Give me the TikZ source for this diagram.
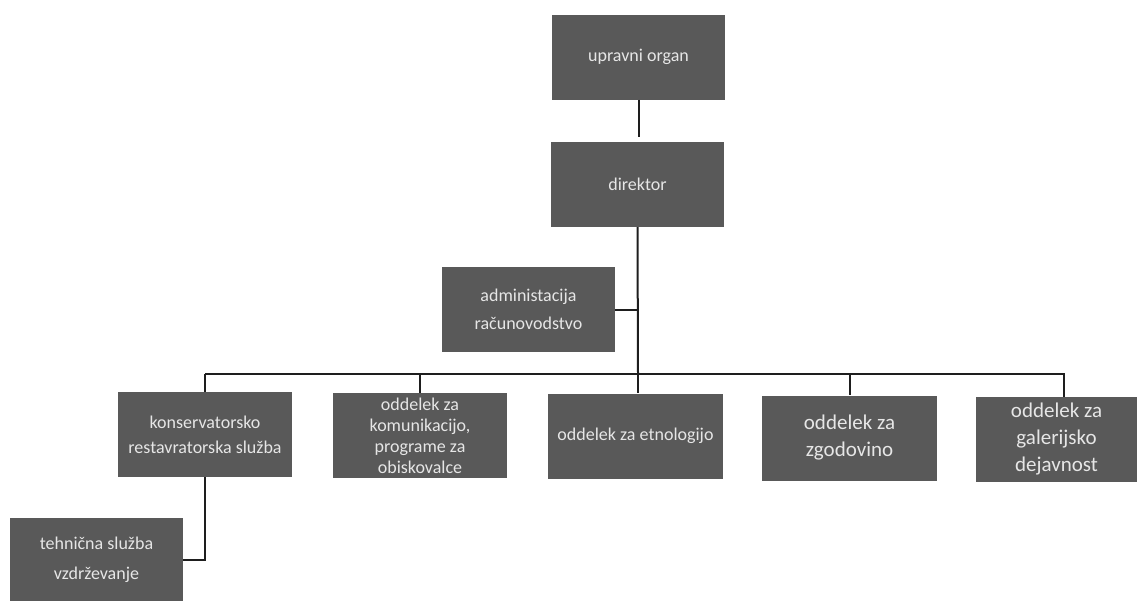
\documentclass[tikz,border=0pt]{standalone}
\usepackage{fontspec}
\setmainfont{Carlito}
\definecolor{boxfill}{HTML}{595959}
\definecolor{boxtext}{HTML}{E6E6E6}
\definecolor{linecol}{HTML}{1E1E1E}
\begin{document}
\begin{tikzpicture}[x=1pt,y=-1pt,
  orgbox/.style={draw=none,fill=boxfill,text=boxtext,align=center,inner sep=2pt,
    minimum width=#1,minimum height=85pt,font=\fontsize{18}{25}\selectfont},
  orgbox/.default=173pt,
  bigtext/.style={font=\fontsize{21}{27}\selectfont},
  conn/.style={draw=linecol,line width=2pt}]
\useasboundingbox (0,0) rectangle (1138,600);
\node[orgbox] (upr) at (638.5,57) {upravni organ};
\node[orgbox] (dir) at (637.5,184.5) {direktor};
\node[orgbox,font=\fontsize{18}{28}\selectfont] (adm) at (528.5,309.5) {administacija\\računovodstvo};
\node[orgbox=174pt] (kons) at (205,434.5) {konservatorsko\\restavratorska služba};
\node[orgbox=174pt,font=\fontsize{18}{21}\selectfont] (kom) at (420,435.5) {oddelek za\\komunikacijo,\\programe za\\obiskovalce};
\node[orgbox=175pt] (etn) at (635.5,436) {oddelek za etnologijo};
\node[orgbox=175pt,bigtext] (zgo) at (849.5,438) {oddelek za\\zgodovino};
\node[orgbox=161pt,bigtext,inner sep=0pt] (gal) at (1056.5,439) {oddelek za\\galerijsko\\dejavnost};
\node[orgbox,minimum height=84pt,font=\fontsize{18}{30}\selectfont] (teh) at (96.5,560) {tehnična služba\\vzdrževanje};
\coordinate (bus) at (638,374);
\coordinate (galtop) at (1064,397);
\draw[conn] (upr.south) -- ++(0,37);
\draw[conn] (dir.south) -- (bus);
\draw[conn] (adm.east) -- (adm.east -| bus);
\draw[conn] (kons.north |- bus) -- (galtop |- bus) -- (galtop);
\foreach \n in {kons,kom,zgo} \draw[conn] (\n.north |- bus) -- (\n.north);
\draw[conn] (bus) -- (etn.north -| bus);
\draw[conn] (kons.south) -- (kons.south |- teh.east) -- (teh.east);
\end{tikzpicture}
\end{document}
